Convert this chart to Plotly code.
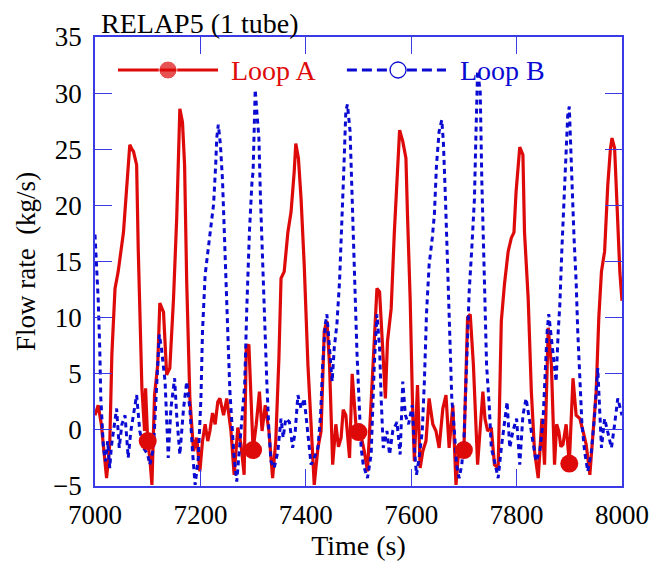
import plotly.graph_objects as go

# ---------------- data ----------------
loop_a_t = [7000, 7006, 7012, 7017, 7022, 7028, 7032, 7038, 7044, 7054, 7060, 7066, 7070, 7073, 7079, 7082,
            7089, 7094, 7096, 7100, 7104, 7108, 7113, 7119, 7123, 7127, 7130, 7136, 7142, 7149, 7155, 7161,
            7166, 7170, 7174, 7180, 7187, 7193, 7199, 7204, 7209, 7214, 7218, 7223, 7228, 7233, 7237, 7244,
            7250, 7258, 7264, 7271, 7277, 7283, 7287, 7292, 7296, 7300, 7306, 7312, 7317, 7323, 7330, 7337,
            7343, 7349, 7353, 7359, 7366, 7372, 7378, 7381, 7386, 7391, 7397, 7404, 7410, 7416, 7423, 7429,
            7435, 7440, 7445, 7451, 7457, 7462, 7467, 7471, 7476, 7483, 7488, 7495, 7500, 7506, 7511, 7517,
            7524, 7530, 7535, 7540, 7545, 7551, 7555, 7562, 7568, 7573, 7578, 7584, 7590, 7593, 7598, 7603,
            7606, 7612, 7617, 7622, 7628, 7634, 7641, 7647, 7653, 7660, 7666, 7672, 7679, 7685, 7691, 7700,
            7707, 7712, 7718, 7726, 7731, 7736, 7740, 7745, 7752, 7758, 7765, 7771, 7777, 7784, 7790, 7795,
            7799, 7806, 7812, 7815, 7822, 7828, 7834, 7841, 7848, 7853, 7860, 7866, 7872, 7876, 7880, 7884,
            7888, 7894, 7900, 7907, 7913, 7920, 7926, 7932, 7939, 7945, 7951, 7956, 7961, 7967, 7973, 7978,
            7981, 7986, 7992, 7996, 8000]
loop_a_flow = [1.3, 2.2, 0.5, -2.0, -4.3, -1.3, 6.7, 12.6, 14.1, 17.6, 21.2, 25.4, 25.0, 24.8, 23.6, 16.2,
               3.7, -0.1, 3.7, -1.0, -2.5, -4.9, 3.1, 5.8, 11.3, 10.8, 10.5, 4.9, 5.5, 11.7, 18.8, 28.6,
               27.4, 23.6, 13.2, 2.8, -1.9, -0.7, -3.7, -1.0, 0.5, -1.0, -0.1, 1.5, 0.5, 2.5, 2.8, 1.3,
               2.8, -0.1, -4.0, 0.2, -1.3, -4.0, 7.3, 7.6, 2.8, -1.8, 0.5, 3.4, -0.1, 2.2, -0.1, -4.3,
               -1.0, 6.4, 13.5, 14.1, 17.6, 19.4, 23.0, 25.5, 24.2, 20.6, 14.7, 5.8, 0.5, -4.9, -1.6, -0.1,
               8.8, 9.7, 5.8, -3.1, 0.5, -1.5, -0.7, 1.8, 1.3, -2.5, 5.0, 0.5, -0.2, -0.8, -1.9, -3.7,
               2.5, 8.8, 12.6, 12.3, 8.2, 2.8, 7.9, 10.8, 17.6, 21.8, 26.7, 25.7, 24.2, 19.1, 11.7, 1.3,
               -2.8, 4.0, -3.4, -1.9, -1.0, 2.8, 0.5, -0.1, -1.6, 1.9, 3.1, -1.6, 2.2, -4.9, -1.3, -1.8,
               10.0, 10.3, 5.8, -3.1, 0.5, 3.4, 1.0, -0.1, 0.2, -3.1, -3.4, 9.7, 13.0, 15.9, 17.1, 17.6,
               21.2, 25.2, 24.5, 17.6, 11.7, 3.4, -1.9, -4.3, 1.0, -3.1, 9.1, 5.8, -3.1, 0.5, -0.1, -1.5,
               -1.3, 0.5, -3.0, 4.6, 1.3, 1.0, -0.1, -1.3, -4.0, -0.1, 3.4, 10.0, 14.1, 15.9, 21.8, 25.0,
               26.0, 25.1, 18.2, 14.0, 11.5]

loop_b_t = [7000, 7003, 7006, 7009, 7011, 7016, 7020, 7024, 7028, 7031, 7035, 7041, 7046, 7051, 7057, 7063,
            7068, 7073, 7079, 7085, 7092, 7100, 7104, 7111, 7115, 7119, 7122, 7126, 7133, 7139, 7144, 7151,
            7155, 7161, 7168, 7174, 7180, 7185, 7190, 7196, 7201, 7204, 7209, 7215, 7221, 7225, 7229, 7231,
            7234, 7238, 7242, 7245, 7249, 7253, 7256, 7260, 7264, 7269, 7274, 7279, 7284, 7288, 7293, 7298,
            7300, 7302, 7304, 7307, 7311, 7314, 7318, 7323, 7326, 7330, 7334, 7340, 7347, 7353, 7357, 7362,
            7369, 7375, 7380, 7385, 7391, 7397, 7404, 7410, 7416, 7423, 7428, 7432, 7437, 7440, 7445, 7450,
            7454, 7459, 7464, 7468, 7472, 7476, 7479, 7484, 7488, 7492, 7497, 7500, 7505, 7509, 7517, 7524,
            7530, 7535, 7540, 7543, 7547, 7554, 7559, 7565, 7573, 7579, 7584, 7589, 7595, 7602, 7606, 7610,
            7615, 7621, 7625, 7629, 7634, 7640, 7644, 7648, 7653, 7658, 7661, 7665, 7669, 7674, 7677, 7682,
            7686, 7691, 7696, 7700, 7705, 7710, 7715, 7720, 7723, 7726, 7731, 7734, 7739, 7743, 7748, 7752,
            7758, 7765, 7771, 7777, 7782, 7787, 7793, 7800, 7806, 7812, 7818, 7825, 7831, 7837, 7844, 7850,
            7855, 7858, 7861, 7866, 7871, 7875, 7879, 7882, 7886, 7890, 7894, 7897, 7900, 7903, 7905, 7909,
            7913, 7916, 7920, 7924, 7929, 7935, 7942, 7948, 7954, 7961, 7967, 7973, 7980, 7986, 7992, 8000]
loop_b_flow = [17.4, 14.7, 11.7, 7.3, 2.8, -1.6, -2.8, -1.0, -3.4, -1.5, -0.1, 1.9, -1.6, 0.5, 1.3, -2.5,
               -0.1, 1.3, 3.1, -0.1, -1.6, -2.2, -3.1, -1.6, 1.9, 6.4, 8.5, 7.3, 4.3, -2.5, 1.9, 4.6,
               1.3, -2.2, 1.9, 4.3, 1.9, -1.9, -4.9, -2.5, 2.8, 8.8, 13.8, 16.2, 18.3, 20.1, 23.6, 26.0,
               27.2, 25.4, 22.2, 17.6, 13.2, 7.3, 3.4, 0.5, -2.5, -4.6, -1.6, 1.0, 4.0, 10.8, 17.6, 22.2,
               23.0, 26.6, 30.3, 28.4, 26.0, 20.6, 14.7, 8.8, 4.3, -0.1, -2.8, -3.4, -1.9, 1.0, -0.7, 1.0,
               0.7, -1.6, -0.1, 3.1, 1.9, 2.8, -0.1, -3.1, -2.5, -1.6, 1.3, 5.8, 9.4, 10.3, 7.3, 4.3,
               7.3, 9.4, 13.2, 17.6, 23.0, 28.4, 29.0, 26.6, 20.6, 13.2, 7.0, 3.7, -1.6, -3.1, -4.3, -2.2,
               5.8, 10.3, 7.3, 2.8, -1.6, -0.1, -2.2, -0.1, 0.7, -2.2, 4.3, 1.3, 0.5, 2.2, -1.6, -4.0,
               -2.5, -0.1, 4.3, 10.3, 14.7, 17.1, 19.2, 23.6, 26.6, 27.6, 25.7, 20.6, 14.7, 8.8, 2.8, -0.1,
               -3.1, -4.3, -3.1, -1.0, 5.8, 12.3, 16.2, 20.6, 26.6, 32.0, 30.1, 22.2, 13.2, 5.8, 2.2, -1.6,
               -2.8, -4.3, -1.6, 0.5, 2.5, -1.6, -0.1, 1.0, -3.1, 1.3, 2.8, 0.7, -1.0, -2.8, -1.9, 0.7,
               5.8, 8.8, 10.3, 8.2, 5.8, 4.3, 8.8, 11.1, 16.2, 20.6, 25.1, 28.0, 28.8, 25.7, 22.2, 17.1,
               13.2, 8.8, 4.3, 0.5, -1.9, -3.7, -1.9, 1.3, 5.5, -1.6, 1.0, -0.1, -1.6, 0.5, 2.8, 1.3]

marker_t = [7100, 7300, 7500, 7700, 7900]
loop_a_marker = [-1.0, -1.8, -0.2, -1.8, -3.0]
loop_b_marker = [-2.2, 23.0, 3.7, -1.0, 28.8]

x_ticks = [7000, 7200, 7400, 7600, 7800, 8000]
y_ticks = [-5, 0, 5, 10, 15, 20, 25, 30, 35]

series_names = ["Loop A", "Loop B"]
title_text = "RELAP5 (1 tube)"
x_title = "Time (s)"
y_title = "Flow rate  (kg/s)"

# ---------------- style ----------------
RED = "#de0a0a"
BLUE = "#0a0ad2"
FRAME = "#3a3ae6"
FONT = "Liberation Serif, Times New Roman, serif"

fig = go.Figure()

fig.add_trace(go.Scatter(x=loop_a_t, y=loop_a_flow, mode="lines",
                         line=dict(color=RED, width=3.2), showlegend=False, hoverinfo="skip"))
fig.add_trace(go.Scatter(x=loop_b_t, y=loop_b_flow, mode="lines",
                         line=dict(color=BLUE, width=3, dash="5px,4px"), showlegend=False, hoverinfo="skip"))
fig.add_trace(go.Scatter(x=marker_t, y=loop_a_marker, mode="markers",
                         marker=dict(color=RED, size=18, symbol="circle"), showlegend=False))
fig.add_trace(go.Scatter(x=marker_t, y=loop_b_marker, mode="markers",
                         marker=dict(color="rgba(0,0,0,0)", size=16, symbol="circle-open",
                                     line=dict(color=BLUE, width=1.3)), showlegend=False))

# custom legend drawn on an overlay 0..1 axis pair
leg_y = 0.9265
fig.add_trace(go.Scatter(x=[0.0436, 0.1385, 0.2334], y=[leg_y] * 3, xaxis="x2", yaxis="y2",
                         mode="lines+markers", line=dict(color=RED, width=3.2),
                         marker=dict(color=RED, size=[0, 18, 0]), showlegend=False, hoverinfo="skip"))
fig.add_trace(go.Scatter(x=[0.478, 0.666], y=[leg_y] * 2, xaxis="x2", yaxis="y2",
                         mode="lines", line=dict(color=BLUE, width=3, dash="10px,5px"),
                         showlegend=False, hoverinfo="skip"))
fig.add_trace(go.Scatter(x=[0.575], y=[leg_y], xaxis="x2", yaxis="y2", mode="markers",
                         marker=dict(color="white", size=16, symbol="circle",
                                     line=dict(color=BLUE, width=1.3)),
                         showlegend=False, hoverinfo="skip"))

axis_common = dict(showgrid=False, zeroline=False, ticks="inside", ticklen=17, tickwidth=1.3,
                   tickcolor=FRAME, showline=True, linecolor=FRAME, linewidth=1.6, mirror="ticks",
                   automargin=False, tickfont=dict(family=FONT, size=27, color="black"))

fig.update_layout(
    width=658, height=555,
    margin=dict(l=87, r=44, t=29, b=77, autoexpand=False),
    paper_bgcolor="white", plot_bgcolor="white",
    font=dict(family=FONT, color="black"),
    xaxis=dict(range=[7000, 8000], tickvals=x_ticks, ticklabelstandoff=4,
               title=dict(text=x_title, font=dict(family=FONT, size=28), standoff=4), **axis_common),
    yaxis=dict(range=[-5, 35], tickvals=y_ticks, ticklabelstandoff=6,
               title=dict(text=y_title, font=dict(family=FONT, size=27), standoff=10), **axis_common),
    xaxis2=dict(overlaying="x", range=[0, 1], visible=False, automargin=False),
    yaxis2=dict(overlaying="y", range=[0, 1], visible=False, automargin=False),
    showlegend=False,
    annotations=[
        dict(text=title_text, xref="paper", yref="paper", x=0.008, y=1.0, xanchor="left", yanchor="bottom",
             showarrow=False, font=dict(family=FONT, size=28, color="black"), yshift=-4),
        dict(text=series_names[0], xref="paper", yref="paper", x=0.2543, y=leg_y, xanchor="left",
             yanchor="middle", showarrow=False, font=dict(family=FONT, size=28, color=RED)),
        dict(text=series_names[1], xref="paper", yref="paper", x=0.689, y=leg_y, xanchor="left",
             yanchor="middle", showarrow=False, font=dict(family=FONT, size=28, color=BLUE)),
    ],
)

fig.write_html("out.html")
